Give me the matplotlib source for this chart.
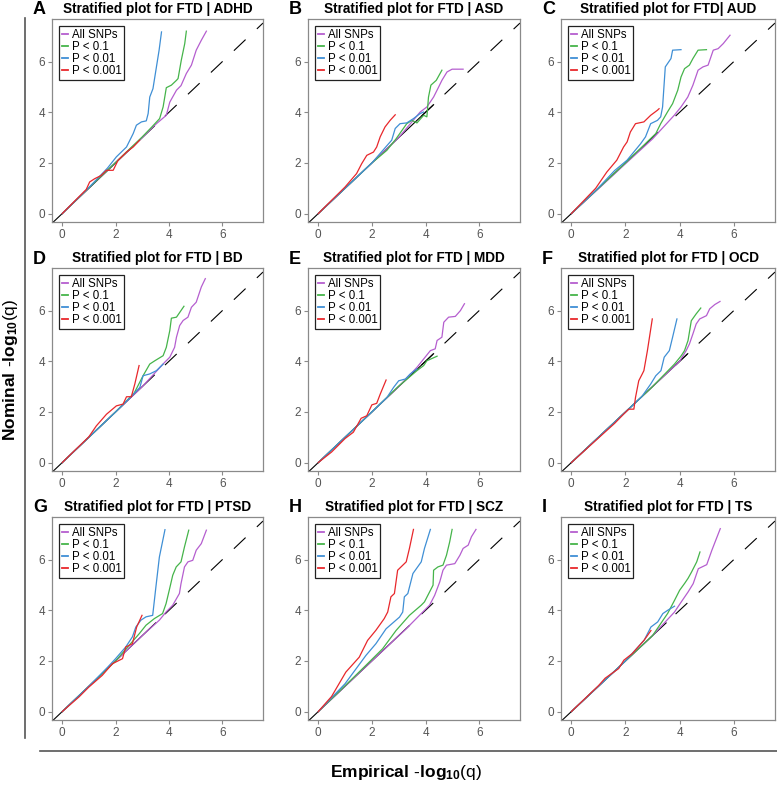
import matplotlib
matplotlib.use("Agg")
import matplotlib.pyplot as plt
from matplotlib.lines import Line2D

plt.rcParams["font.family"] = ["Liberation Sans", "DejaVu Sans"]
plt.rcParams["mathtext.fontset"] = "custom"
plt.rcParams["mathtext.rm"] = "Liberation Sans"
plt.rcParams["mathtext.bf"] = "Liberation Sans:bold"

# panel titles / letters
letters = ["A", "B", "C", "D", "E", "F", "G", "H", "I"]
titles = ["Stratified plot for FTD | ADHD", "Stratified plot for FTD | ASD",
          "Stratified plot for FTD| AUD", "Stratified plot for FTD | BD",
          "Stratified plot for FTD | MDD", "Stratified plot for FTD | OCD",
          "Stratified plot for FTD | PTSD", "Stratified plot for FTD | SCZ",
          "Stratified plot for FTD | TS"]
labels = ["All SNPs", "P < 0.1", "P < 0.01", "P < 0.001"]
colors = ["#B55ECF", "#45B44A", "#3F8FD5", "#E8272B"]

# empirical (x) vs nominal (y) -log10(q)
adhd_all = ([0, 1, 2, 3, 3.53, 3.9, 4.03, 4.28, 4.45, 4.65, 4.84, 5.02, 5.21, 5.40],
            [0, 1.02, 2.02, 3.0, 3.55, 3.88, 4.4, 4.87, 5.05, 5.53, 5.86, 6.45, 6.84, 7.2])
adhd_p1 = ([0, 1, 2, 3, 3.34, 3.65, 3.78, 3.9, 4.09, 4.28, 4.34, 4.46, 4.59, 4.65],
           [0, 1.02, 2.02, 3.03, 3.4, 3.75, 4.21, 4.97, 5.07, 5.26, 5.33, 6.05, 6.71, 7.2])
adhd_p01 = ([0, 1, 1.7, 2.03, 2.41, 2.66, 2.78, 2.97, 3.15, 3.22, 3.28, 3.4, 3.53, 3.63, 3.72],
            [0, 1.03, 1.8, 2.24, 2.63, 3.16, 3.49, 3.62, 3.66, 3.95, 4.6, 4.93, 5.79, 6.45, 7.17])
adhd_p001 = ([0, 0.9, 1.03, 1.22, 1.45, 1.66, 1.91, 2.09, 2.41, 2.66, 2.9],
             [0, 0.95, 1.25, 1.38, 1.5, 1.71, 1.71, 2.1, 2.43, 2.63, 2.9])

asd_all = ([0, 1, 2, 3, 3.8, 4.05, 4.3, 4.49, 4.61, 4.8, 4.99, 5.4],
           [0, 1.0, 2.0, 3.0, 4.01, 4.21, 4.6, 5.0, 5.26, 5.59, 5.7, 5.7])
asd_p1 = ([0, 1, 2, 2.56, 2.9, 3.3, 3.49, 3.68, 3.93, 4.05, 4.11, 4.2, 4.4, 4.61],
          [0, 1.0, 2.0, 2.5, 2.95, 3.55, 3.68, 3.58, 3.88, 3.82, 4.6, 5.07, 5.26, 5.66])
asd_p01 = ([0, 1, 2, 2.74, 2.87, 3.05, 3.3, 3.55, 3.8, 3.93],
           [0, 1.0, 2.0, 2.9, 3.36, 3.55, 3.58, 3.75, 3.95, 4.01])
asd_p001 = ([0, 1, 1.43, 1.62, 1.81, 2.06, 2.18, 2.31, 2.49, 2.68, 2.87],
            [0, 1.05, 1.58, 1.97, 2.3, 2.43, 2.63, 3.03, 3.42, 3.68, 3.9])

aud_all = ([0, 1, 2, 3, 3.8, 4.05, 4.3, 4.49, 4.68, 4.86, 5.05, 5.24, 5.42, 5.61, 5.86],
           [0, 0.98, 1.97, 2.95, 3.88, 4.21, 4.6, 5.07, 5.66, 5.79, 5.86, 6.45, 6.51, 6.71, 7.04])
aud_p1 = ([0, 1, 2, 3.12, 3.3, 3.55, 3.74, 3.93, 4.05, 4.18, 4.36, 4.49, 4.68, 4.99],
          [0, 1.0, 2.0, 3.16, 3.55, 4.01, 4.34, 4.87, 5.39, 5.72, 5.86, 6.12, 6.45, 6.47])
aud_p01 = ([0, 1, 1.6, 2.06, 2.56, 2.74, 2.93, 3.18, 3.3, 3.37, 3.47, 3.68, 3.74, 4.05],
           [0, 1.02, 1.7, 2.11, 2.76, 3.03, 3.55, 3.68, 3.82, 4.21, 5.79, 6.12, 6.45, 6.47])
aud_p001 = ([0, 0.9, 1.31, 1.68, 1.93, 2.06, 2.18, 2.37, 2.68, 2.93, 3.18, 3.24],
            [0, 1.0, 1.64, 2.11, 2.63, 2.83, 3.22, 3.55, 3.62, 3.88, 4.08, 4.14])

bd_all = ([0, 1, 2, 3, 3.84, 4.03, 4.21, 4.28, 4.4, 4.53, 4.71, 4.84, 5.02, 5.21, 5.36],
          [0, 1.0, 2.0, 3.0, 3.96, 4.16, 4.55, 4.95, 5.41, 5.61, 5.74, 6.13, 6.33, 6.93, 7.26])
bd_p1 = ([0, 1, 2, 2.7, 3.03, 3.28, 3.47, 3.78, 3.9, 4.03, 4.09, 4.28, 4.56],
         [0, 1.0, 2.0, 2.75, 3.43, 3.89, 4.02, 4.22, 4.55, 5.21, 5.7, 5.74, 6.17])
bd_p01 = ([0, 1, 2, 2.53, 2.91, 3.03, 3.28, 3.53, 3.78],
          [0, 1.0, 2.0, 2.55, 2.97, 3.43, 3.5, 3.63, 3.89])
bd_p001 = ([0, 1, 1.28, 1.66, 2.03, 2.28, 2.41, 2.59, 2.72, 2.88],
           [0, 1.02, 1.45, 1.91, 2.24, 2.31, 2.6, 2.6, 3.1, 3.83])

mdd_all = ([0, 1, 2, 3, 3.68, 3.93, 4.18, 4.36, 4.43, 4.61, 4.68, 4.86, 5.11, 5.3, 5.45],
           [0, 1, 2, 3, 3.76, 4.09, 4.42, 4.49, 4.82, 4.95, 5.54, 5.74, 5.77, 6.0, 6.27])
mdd_p1 = ([0, 1, 2, 3, 3.68, 3.93, 4.05, 4.43],
          [0, 1, 2, 3.02, 3.63, 3.83, 4.02, 4.2])
mdd_p01 = ([0, 1, 2, 2.56, 2.81, 3.0, 3.25, 3.43, 3.68],
           [0, 1, 2, 2.57, 2.97, 3.23, 3.3, 3.5, 3.7])
mdd_p001 = ([0, 0.5, 1.0, 1.31, 1.6, 1.81, 2.0, 2.18, 2.31, 2.53],
            [0, 0.42, 0.95, 1.2, 1.75, 1.85, 2.28, 2.34, 2.7, 3.26])

ocd_all = ([0, 1, 2, 3, 4, 4.24, 4.36, 4.49, 4.61, 4.74, 4.99, 5.11, 5.3, 5.49],
           [0, 1, 2, 3, 4, 4.42, 4.68, 5.08, 5.47, 5.67, 5.8, 6.07, 6.24, 6.36])
ocd_p1 = ([0, 1, 2, 3, 3.81, 4.06, 4.18, 4.31, 4.43, 4.61, 4.78],
          [0, 1, 2, 3, 3.89, 4.22, 4.42, 4.82, 5.6, 5.87, 6.1])
ocd_p01 = ([0, 1, 2, 2.6, 2.93, 3.12, 3.31, 3.43, 3.62, 3.74, 3.9],
           [0, 1, 2, 2.6, 3.1, 3.43, 3.63, 4.16, 4.42, 4.95, 5.67])
ocd_p001 = ([0, 1, 1.6, 1.93, 2.12, 2.31, 2.37, 2.49, 2.62, 2.68, 2.81, 2.99],
            [0, 0.97, 1.55, 1.91, 2.11, 2.11, 2.57, 3.23, 3.5, 3.63, 4.42, 5.67])

ptsd_all = ([0, 1, 2, 3, 3.64, 3.89, 4.14, 4.39, 4.45, 4.58, 4.71, 4.89, 5.02, 5.21, 5.4],
            [0, 1, 2, 3, 3.61, 3.93, 4.2, 4.66, 5.05, 5.71, 5.91, 5.97, 6.37, 6.63, 7.16])
ptsd_p1 = ([0, 1, 2, 2.89, 3.14, 3.45, 3.76, 3.89, 4.01, 4.14, 4.27, 4.45, 4.58, 4.74],
           [0, 1, 2, 3.08, 3.41, 3.67, 3.87, 4.26, 4.79, 5.38, 5.71, 5.91, 6.5, 7.16])
ptsd_p01 = ([0, 1, 1.7, 2.0, 2.38, 2.63, 2.76, 2.95, 3.14, 3.39, 3.51, 3.64, 3.85],
            [0, 1, 1.75, 2.09, 2.55, 2.95, 3.34, 3.61, 3.74, 3.8, 4.92, 6.1, 7.18])
ptsd_p001 = ([0, 0.63, 1.0, 1.5, 1.88, 2.26, 2.38, 2.63, 2.79, 2.99],
             [0, 0.58, 0.97, 1.43, 1.89, 2.09, 2.55, 2.68, 3.34, 3.8])

scz_all = ([0, 1, 2, 3.28, 3.84, 4.15, 4.34, 4.53, 4.65, 4.78, 5.09, 5.28, 5.4, 5.59, 5.71, 5.88],
           [0, 1, 2, 3.27, 3.87, 4.2, 4.59, 5.12, 5.58, 5.78, 5.84, 6.17, 6.44, 6.57, 6.9, 7.19])
scz_p1 = ([0, 1, 1.8, 2.4, 2.9, 3.4, 3.84, 3.96, 4.28, 4.3, 4.46, 4.65, 4.78, 4.9, 4.99],
          [0, 1.02, 1.85, 2.48, 3.2, 3.8, 4.2, 4.33, 4.99, 5.58, 5.71, 5.78, 6.17, 6.7, 7.19])
scz_p01 = ([0, 1, 1.78, 2.15, 2.53, 3.03, 3.15, 3.21, 3.34, 3.53, 3.84, 3.96, 4.18],
           [0, 1.1, 2.22, 2.68, 3.27, 3.73, 3.93, 4.53, 4.66, 5.45, 5.91, 6.44, 7.19])
scz_p001 = ([0, 0.5, 1.03, 1.53, 1.84, 2.15, 2.46, 2.59, 2.71, 2.84, 2.96, 3.28, 3.4, 3.55],
            [0, 0.6, 1.56, 2.15, 2.81, 3.21, 3.67, 3.93, 4.53, 4.66, 5.58, 5.91, 6.44, 7.19])

ts_all = ([0, 1, 2, 3, 3.81, 4.06, 4.31, 4.5, 4.69, 5.0, 5.19, 5.31, 5.5],
          [0, 1, 2, 3, 3.93, 4.33, 4.72, 5.05, 5.64, 5.8, 6.37, 6.7, 7.22])
ts_p1 = ([0, 1, 2, 3, 3.56, 3.81, 4.0, 4.19, 4.31, 4.44, 4.63, 4.75],
         [0, 1, 2, 3, 3.88, 4.39, 4.79, 5.07, 5.26, 5.51, 5.91, 6.3])
ts_p01 = ([0, 1, 2, 2.69, 2.94, 3.19, 3.38, 3.56, 3.81],
          [0, 1, 2, 2.82, 3.34, 3.54, 3.87, 4.0, 4.16])
ts_p001 = ([0, 1, 1.25, 1.75, 1.94, 2.25, 2.69, 2.94],
           [0, 1.02, 1.32, 1.7, 2.03, 2.29, 2.82, 3.2])

panels = [
    [adhd_all, adhd_p1, adhd_p01, adhd_p001],
    [asd_all, asd_p1, asd_p01, asd_p001],
    [aud_all, aud_p1, aud_p01, aud_p001],
    [bd_all, bd_p1, bd_p01, bd_p001],
    [mdd_all, mdd_p1, mdd_p01, mdd_p001],
    [ocd_all, ocd_p1, ocd_p01, ocd_p001],
    [ptsd_all, ptsd_p1, ptsd_p01, ptsd_p001],
    [scz_all, scz_p1, scz_p01, scz_p001],
    [ts_all, ts_p1, ts_p01, ts_p001],
]
# where the black reference line stops being solid
solid_end = [3.45, 4.3, 3.2, 3.45, 4.3, 4.3, 3.5, 3.4, 3.5]

W, H = 777, 786
fig = plt.figure(figsize=(W / 100, H / 100), dpi=100)

col_left = [52, 308, 561]
col_w = [211, 212, 214]
row_top = [19, 268, 517]
row_h = 203
xlim = (-0.38, 7.52)
ylim = (-0.33, 7.68)
grey = "#8a8a8a"

for i in range(9):
    r, c = divmod(i, 3)
    ax = fig.add_axes([col_left[c] / W, 1 - (row_top[r] + row_h) / H,
                       col_w[c] / W, row_h / H])
    ax.set_xlim(*xlim)
    ax.set_ylim(*ylim)
    # reference line
    ax.plot([xlim[0], solid_end[i]], [xlim[0], solid_end[i]], color="black", lw=0.8)
    ax.plot([3.85, xlim[1]], [3.85, xlim[1]], color="black", lw=0.8,
            dashes=(14.5, 14.0))
    for (xs, ys), col, lab in zip(panels[i], colors, labels):
        ax.plot(xs, ys, color=col, lw=0.9, label=lab)
    for s in ax.spines.values():
        s.set_color(grey)
        s.set_linewidth(0.9)
    ax.set_xticks([0, 2, 4, 6])
    ax.set_yticks([0, 2, 4, 6])
    ax.tick_params(colors=grey, labelcolor="#555555", labelsize=8.5, length=3,
                   width=0.8, pad=2)
    leg = ax.legend(loc="upper left", fontsize=8.3, handlelength=0.5,
                    handletextpad=0.3, labelspacing=0.0, borderpad=0.25,
                    borderaxespad=0.65, fancybox=False, framealpha=1)
    leg.get_frame().set_edgecolor("#222222")
    leg.get_frame().set_linewidth(0.9)
    for h in leg.legend_handles:
        h.set_linewidth(1.3)
    ax.set_title(titles[i], fontsize=9.8, fontweight="bold", pad=4)
    fig.text((col_left[c] - 19) / W, 1 - (row_top[r] - 9) / H, letters[i],
             fontsize=13, fontweight="bold", va="center", ha="left")

# outer frame lines
fig.add_artist(Line2D([25 / W, 25 / W], [1 - 18 / H, 1 - 738 / H],
                      color="#555555", lw=1.2))
fig.add_artist(Line2D([40 / W, 1.0], [1 - 751 / H, 1 - 751 / H],
                      color="#555555", lw=1.2))

fig.text(406 / W, 1 - 773 / H, r"$\mathbf{Empirical\ \text{-}log_{10}}$(q)",
         fontsize=12.5, ha="center", va="center")
fig.text(11 / W, 1 - 370 / H, r"$\mathbf{Nominal\ \text{-}log_{10}}$(q)",
         fontsize=12.5, ha="center", va="center", rotation=90)

fig.savefig("out.png", dpi=100)
